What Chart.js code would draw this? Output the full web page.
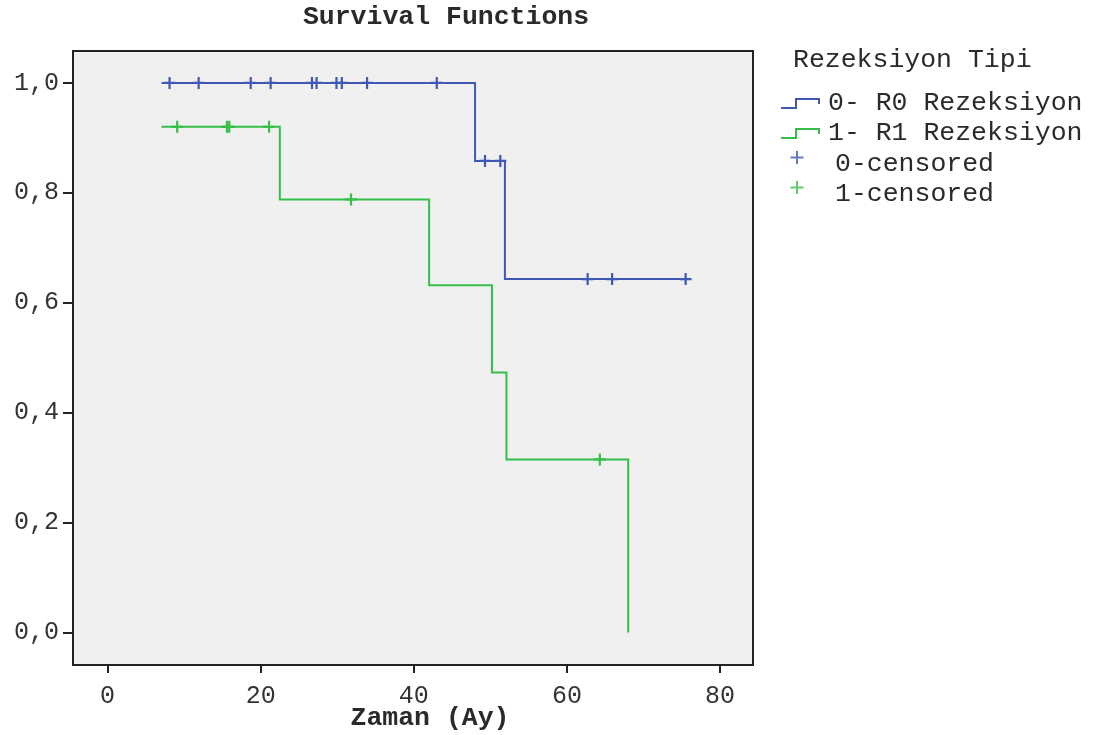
<!DOCTYPE html>
<html>
<head>
<meta charset="utf-8">
<script src="https://cdn.jsdelivr.net/npm/chart.js@4/dist/chart.umd.min.js"></script>
<style>
  html, body { margin: 0; padding: 0; background: #ffffff; }
  #wrap { width: 1099px; height: 735px; position: relative; }
</style>
</head>
<body>
<div id="wrap"><canvas id="c" width="1099" height="735"></canvas></div>
<script>
// ---- data ----
const chartTitle = "Survival Functions";
const xAxisTitle = "Zaman (Ay)";
const legendTitle = "Rezeksiyon Tipi";
const seriesLabels = ["0- R0 Rezeksiyon", "1- R1 Rezeksiyon"];
const censorLabels = ["0-censored", "1-censored"];

const xTicks = [0, 20, 40, 60, 80];
const yTicks = [0.0, 0.2, 0.4, 0.6, 0.8, 1.0];

// step curve R0 (time, survival after the step)
const r0Times = [7.05, 48.0, 51.9, 75.5];
const r0Surv  = [1.0, 0.858, 0.643, 0.643];
// step curve R1
const r1Times = [7.05, 22.5, 42.0, 50.2, 52.1, 68.0];
const r1Surv  = [0.920, 0.788, 0.632, 0.473, 0.315, 0.0];

// censored observations
const r0CensorTimes = [8.1, 11.9, 18.7, 21.3, 26.7, 27.3, 29.9, 30.6, 33.9, 43.0, 49.3, 51.3, 62.7, 65.9, 75.5];
const r0CensorSurv  = [1.0, 1.0, 1.0, 1.0, 1.0, 1.0, 1.0, 1.0, 1.0, 1.0, 0.858, 0.858, 0.643, 0.643, 0.643];
const r1CensorTimes = [9.1, 15.6, 15.9, 21.1, 31.8, 64.3];
const r1CensorSurv  = [0.920, 0.920, 0.920, 0.920, 0.788, 0.315];

// ---- styles ----
const BLUE = "#3f58b4";
const GREEN = "#35bf48";
const FONT = "'Liberation Mono', 'DejaVu Sans Mono', monospace";
const CHART_LEFT = 73, CHART_TOP = 51, CHART_RIGHT = 753, CHART_BOTTOM = 665;

const zip = (xs, ys) => xs.map((x, i) => ({ x: x, y: ys[i] }));

const decorPlugin = {
  id: 'decor',
  beforeDatasetsDraw(chart) {
    const { ctx, chartArea: a } = chart;
    ctx.save();
    ctx.fillStyle = '#f0f0f0';
    ctx.fillRect(a.left, a.top, a.right - a.left, a.bottom - a.top);
    ctx.restore();
  },
  afterDraw(chart) {
    const { ctx, chartArea: a } = chart;
    ctx.save();
    // frame
    ctx.strokeStyle = '#222';
    ctx.lineWidth = 2;
    ctx.strokeRect(a.left, a.top, a.right - a.left, a.bottom - a.top);

    // title
    ctx.fillStyle = '#2a2a2a';
    ctx.font = "bold 26.5px " + FONT;
    ctx.textAlign = 'center';
    ctx.textBaseline = 'middle';
    ctx.fillText(chartTitle, 446, 17);

    // x-axis title
    ctx.fillText(xAxisTitle, 430, 718);

    // legend
    ctx.font = "26.5px " + FONT;
    ctx.textAlign = 'left';
    ctx.fillText(legendTitle, 793, 60);

    const rows = [103, 133];
    const colors = [BLUE, GREEN];
    rows.forEach((y, i) => {
      ctx.strokeStyle = colors[i];
      ctx.lineWidth = 2;
      ctx.beginPath();
      ctx.moveTo(781, y + 5);
      ctx.lineTo(796, y + 5);
      ctx.lineTo(796, y - 4);
      ctx.lineTo(819, y - 4);
      ctx.lineTo(819, y + 1);
      ctx.stroke();
      ctx.fillStyle = '#2a2a2a';
      ctx.fillText(seriesLabels[i], 828, y);
    });
    const crows = [164, 194];
    crows.forEach((y, i) => {
      ctx.strokeStyle = colors[i];
      ctx.globalAlpha = 0.8;
      ctx.lineWidth = 2;
      ctx.beginPath();
      ctx.moveTo(797, y - 13); ctx.lineTo(797, y);
      ctx.moveTo(790.5, y - 6.5); ctx.lineTo(803.5, y - 6.5);
      ctx.stroke();
      ctx.globalAlpha = 1;
      ctx.fillStyle = '#2a2a2a';
      ctx.fillText(censorLabels[i], 835, y);
    });
    ctx.restore();
  }
};

new Chart(document.getElementById('c'), {
  type: 'line',
  data: {
    datasets: [
      { label: seriesLabels[0], data: zip(r0Times, r0Surv), borderColor: BLUE, borderWidth: 2,
        stepped: 'before', pointRadius: 0, fill: false, order: 2 },
      { label: seriesLabels[1], data: zip(r1Times, r1Surv), borderColor: GREEN, borderWidth: 2,
        stepped: 'before', pointRadius: 0, fill: false, order: 2 },
      { label: censorLabels[0], data: zip(r0CensorTimes, r0CensorSurv), showLine: false,
        pointStyle: 'cross', pointRadius: 6, pointBorderWidth: 2.2, borderColor: BLUE,
        pointBorderColor: BLUE, backgroundColor: BLUE, order: 1 },
      { label: censorLabels[1], data: zip(r1CensorTimes, r1CensorSurv), showLine: false,
        pointStyle: 'cross', pointRadius: 6, pointBorderWidth: 2.2, borderColor: GREEN,
        pointBorderColor: GREEN, backgroundColor: GREEN, order: 1 }
    ]
  },
  options: {
    responsive: false,
    animation: false,
    events: [],
    layout: { padding: { left: 0, top: CHART_TOP, right: 1099 - CHART_RIGHT, bottom: 0 } },
    plugins: { legend: { display: false }, title: { display: false }, tooltip: { enabled: false } },
    scales: {
      x: {
        type: 'linear',
        min: -4.51, max: 84.3,
        afterBuildTicks: (s) => { s.ticks = xTicks.map(v => ({ value: v })); },
        afterFit: (s) => { s.height = 735 - CHART_BOTTOM; },
        grid: { drawOnChartArea: false, drawTicks: true, tickLength: 8, color: '#222', lineWidth: 2 },
        border: { display: false },
        ticks: { color: '#333', font: { family: FONT, size: 25 }, padding: 8, maxRotation: 0,
                 callback: (v) => String(v) }
      },
      y: {
        type: 'linear',
        min: -0.059, max: 1.058,
        afterBuildTicks: (s) => { s.ticks = yTicks.map(v => ({ value: v })); },
        afterFit: (s) => { s.width = CHART_LEFT; },
        grid: { drawOnChartArea: false, drawTicks: true, tickLength: 10, color: '#222', lineWidth: 2 },
        border: { display: false },
        ticks: { color: '#333', font: { family: FONT, size: 25 }, padding: 4,
                 callback: (v) => v.toFixed(1).replace('.', ',') }
      }
    }
  },
  plugins: [decorPlugin]
});
</script>
</body>
</html>
